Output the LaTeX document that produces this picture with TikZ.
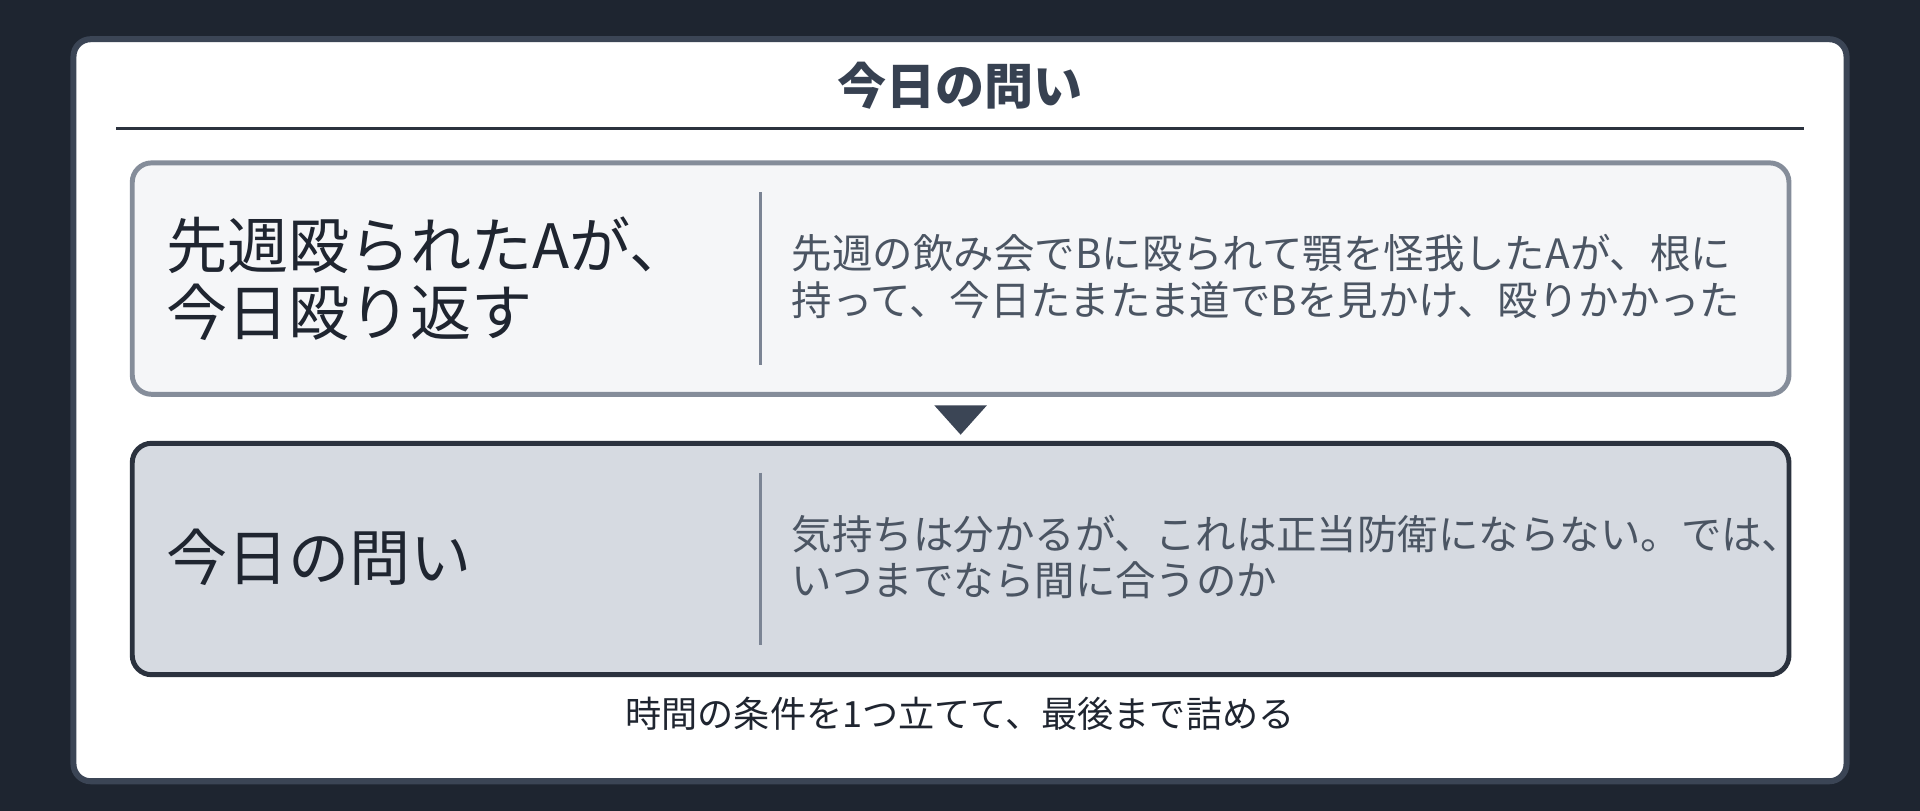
\documentclass[tikz,border=0pt]{standalone}
\usepackage{fontspec}
\setmainfont{Noto Sans CJK JP}
\usetikzlibrary{positioning,calc}
\definecolor{bgdark}{HTML}{1E2530}
\definecolor{cardline}{HTML}{3B4555}
\definecolor{ink}{HTML}{1F2530}
\definecolor{titleink}{HTML}{374151}
\definecolor{slate}{HTML}{4B5563}
\definecolor{divline}{HTML}{7B8494}
\definecolor{paleface}{HTML}{F5F6F8}
\definecolor{paleline}{HTML}{858D9A}
\definecolor{darkface}{HTML}{D6DAE1}
\definecolor{darkline}{HTML}{2B323E}
\tikzset{
  card/.style={
      draw=cardline,
      line width=1.4pt,
      fill=white,
      rounded corners=4pt
  },
  panel/.style={
      rectangle,
      rounded corners=4.5pt,
      line width=1.15pt,
      minimum width=135.3mm,
      minimum height=18.9mm,
      inner sep=0pt
  },
  heading/.style={
      font=\fontsize{14.2pt}{15.65pt}\selectfont,
      text=ink,
      align=left,
      anchor=west,
      inner sep=0pt
  },
  detail/.style={
      font=\fontsize{9.4pt}{10.8pt}\selectfont,
      text=slate,
      align=left,
      anchor=west,
      inner sep=0pt
  },
  divider/.style={draw=divline, line width=0.6pt}
}
\begin{document}
\begin{tikzpicture}[x=0.1mm,y=-0.1mm]
    \useasboundingbox[fill=bgdark] (0,0) rectangle (1568,662);
    \draw[card] (60,32) rectangle (1508,638);
    \node[font=\fontsize{11.4pt}{13pt}\selectfont\bfseries, text=titleink] (title) at (784,70) {今日の問い};
    \draw[darkline, line width=0.65pt] (95,105) -- (1473,105);
    % case box
    \node[panel, draw=paleline, fill=paleface] (case) at (784.5,227.5) {};
    \node[heading] (casehead) at (135,227.5) {先週殴られたAが、\\今日殴り返す};
    \draw[divider] (621,157) -- (621,298);
    \node[detail] (casetext) at (646,226) {先週の飲み会でBに殴られて顎を怪我したAが、根に\\持って、今日たまたま道でBを見かけ、殴りかかった};
    \fill[cardline] (763,331) -- (806,331) -- (784.5,355) -- cycle;
    % question box
    \node[panel, draw=darkline, fill=darkface] (quest) at (784.5,456.5) {};
    \node[heading] (questhead) at (135,455) {今日の問い};
    \draw[divider] (621,386) -- (621,527);
    \node[detail] (questtext) at (646,455) {気持ちは分かるが、これは正当防衛にならない。では、\\いつまでなら間に合うのか};
    \node[font=\fontsize{8.4pt}{10pt}\selectfont, text=ink] (note) at (784,583) {時間の条件を1つ立てて、最後まで詰める};
\end{tikzpicture}
\end{document}
